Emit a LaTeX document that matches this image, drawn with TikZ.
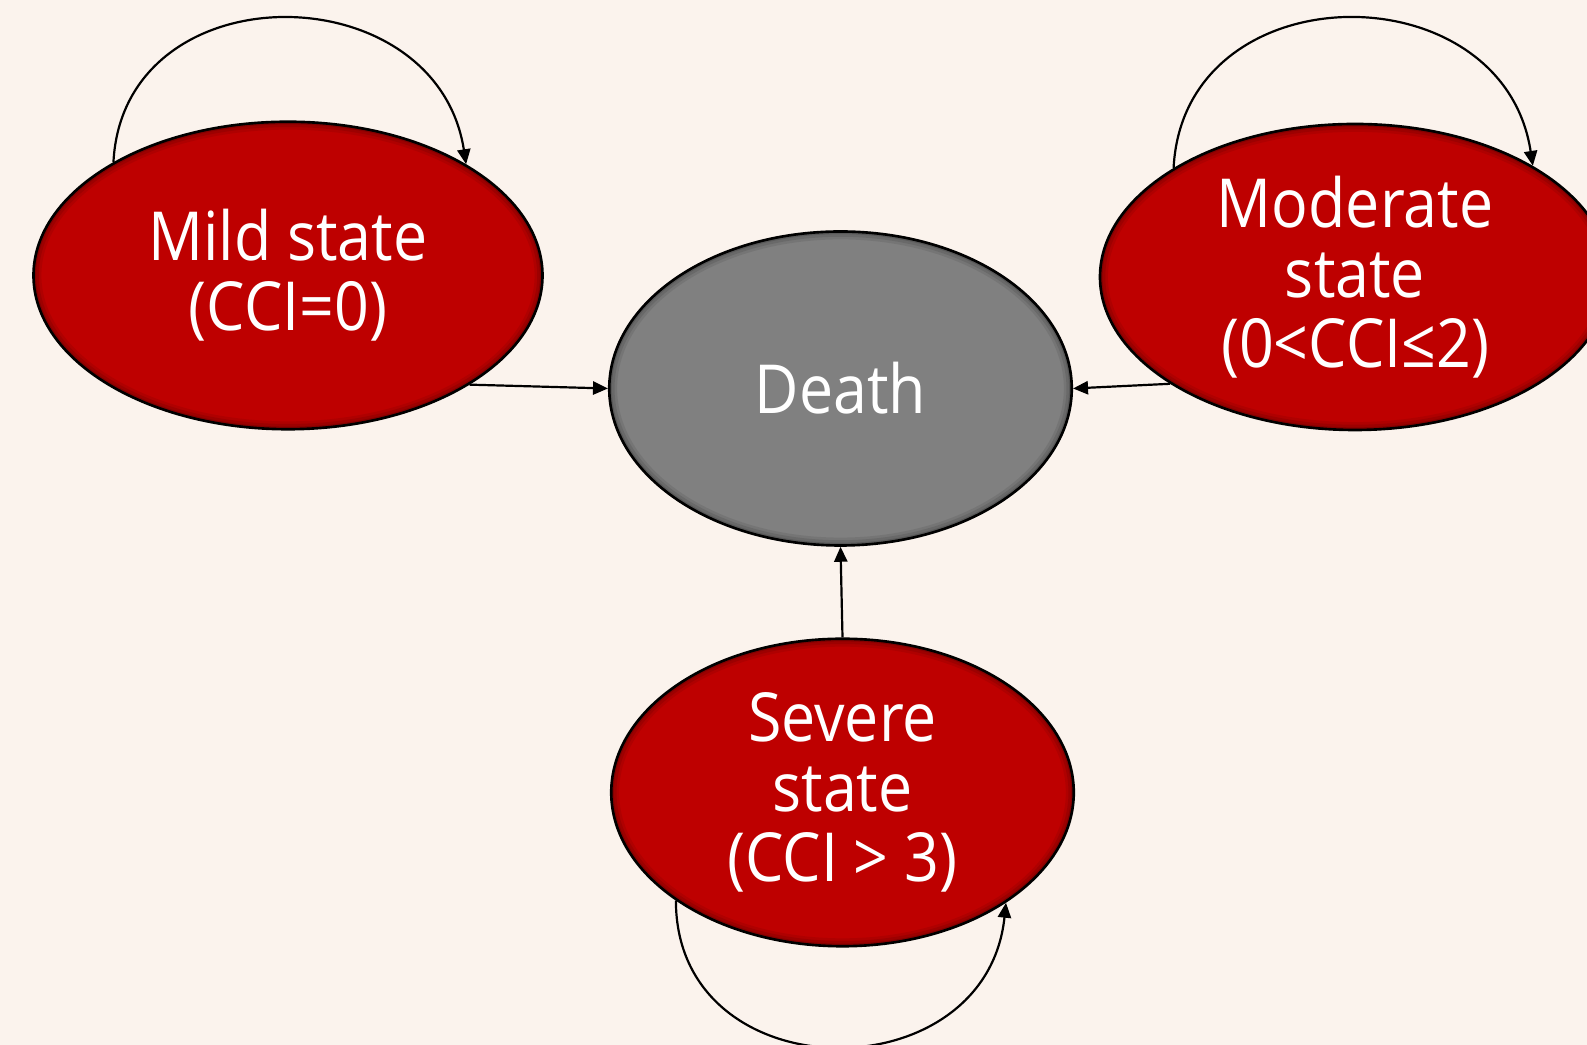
\documentclass[tikz,border=0pt]{standalone}
\usepackage{fontspec}
\setmainfont[FakeStretch=0.9]{Open Sans}
\usetikzlibrary{arrows.meta,shapes.geometric,calc,positioning}
\definecolor{bgcream}{RGB}{251,243,237}
\definecolor{statered}{RGB}{190,0,0}
\definecolor{deathgrey}{RGB}{128,128,128}

\tikzset{
  state/.style={ellipse, draw=black, line width=1.5pt, fill=statered, text=white,
    align=center, inner sep=0pt, font=\fontsize{38.5}{40}\selectfont,
    path picture={\foreach \w/\o in {9/0.08,6/0.1,3/0.15}{
      \draw[line width=\w pt, opacity=\o] let \p1=(path picture bounding box.north east),
        \p2=(path picture bounding box.center) in
        (\p2) ellipse [x radius=\x1-\x2, y radius=\y1-\y2];}}},
  link/.style={line width=1.25pt, -{Triangle[length=8.5pt,width=7.5pt]}},
}

\begin{document}
\begin{tikzpicture}
\fill[bgcream] (0,0) rectangle (31.74,20.9);
\clip (0,0) rectangle (31.74,20.9);

\node[state, minimum width=10.18cm, minimum height=6.15cm] (mild) at (5.76,15.39) {Mild state\\(CCI=0)};
\node[state, fill=deathgrey, minimum width=9.25cm, minimum height=6.28cm] (death) at (16.81,13.13) {Death};
\node[state, minimum width=10.2cm, minimum height=6.12cm] (moderate) at (27.1,15.36) {Moderate\\state\\(0<CCI≤2)};
\node[state, minimum width=9.25cm, minimum height=6.15cm] (severe) at (16.85,5.05) {Severe\\state\\(CCI > 3)};

% transitions to death
\draw[link] (mild.-31) -- (death.west);
\draw[link] (moderate.210) -- (death.east);
\draw[link] (severe.north) -- (death.south);

% staying in the same state
\draw[link] (mild.147) .. controls +(0.2,3.85) and +(-0.6,3.85) .. (mild.32);
\draw[link] (moderate.149.7) .. controls +(0.2,3.95) and +(-0.6,3.95) .. (moderate.32);
\draw[link] (severe.213) .. controls +(0,-3.85) and +(-0.4,-3.85) .. (severe.-34.6);
\end{tikzpicture}
\end{document}
